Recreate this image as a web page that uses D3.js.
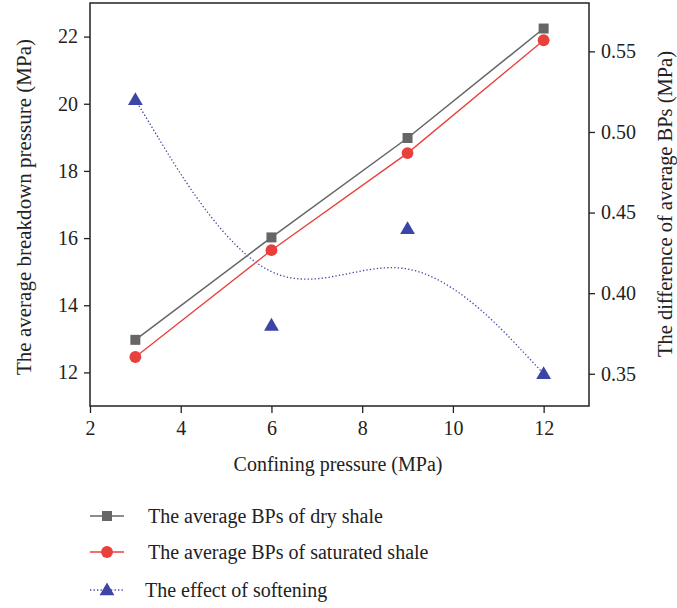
<!DOCTYPE html>
<html>
<head>
<meta charset="utf-8">
<script src="https://cdn.jsdelivr.net/npm/d3@7"></script>
<style>
  body { margin: 0; background: #fff; }
  svg text { font-family: "Liberation Serif", "DejaVu Serif", serif; fill: #222; }
</style>
</head>
<body>
<div id="chart"></div>
<script>
// confining pressure (MPa)
var pressure = [3, 6, 9, 12];
// average breakdown pressures (MPa)
var dryBP = [12.97, 16.02, 18.98, 22.24];
var satBP = [12.46, 15.64, 18.53, 21.89];
// difference of average BPs (MPa), right axis
var softening = [0.52, 0.38, 0.44, 0.35];

var xTicks = [2, 4, 6, 8, 10, 12];
var yTicks = [12, 14, 16, 18, 20, 22];
var y2Ticks = [0.35, 0.40, 0.45, 0.50, 0.55];

var legendLabels = [
  "The average BPs of dry shale",
  "The average BPs of saturated shale",
  "The effect of softening"
];

var width = 677, height = 608,
    plotL = 90, plotR = 589, plotT = 3, plotB = 406;

var svg = d3.select("#chart").append("svg")
    .attr("width", width)
    .attr("height", height);

var x = d3.scaleLinear().domain([2, 13]).range([plotL, plotR]),
    y = d3.scaleLinear().domain([11, 23]).range([plotB, plotT]),
    y2 = d3.scaleLinear().domain([0.33, 0.58]).range([plotB, plotT]);

var xAxis = d3.axisBottom(x).tickValues(xTicks).tickSize(7).tickPadding(8),
    yAxis = d3.axisLeft(y).tickValues(yTicks).tickSize(6).tickPadding(6),
    y2Axis = d3.axisRight(y2).tickValues(y2Ticks).tickSize(6).tickPadding(6)
        .tickFormat(d3.format(".2f"));

function styleAxis(g) {
    g.select(".domain").remove();
    g.selectAll(".tick line").attr("stroke", "#222").attr("stroke-width", 1.3);
    g.selectAll(".tick text").style("font-size", "20px").attr("fill", "#222");
}

svg.append("g").attr("transform", "translate(0," + plotB + ")").call(xAxis).call(styleAxis);
svg.append("g").attr("transform", "translate(" + plotL + ",0)").call(yAxis).call(styleAxis);
svg.append("g").attr("transform", "translate(" + plotR + ",0)").call(y2Axis).call(styleAxis);

// frame
svg.append("rect")
    .attr("x", plotL).attr("y", plotT)
    .attr("width", plotR - plotL).attr("height", plotB - plotT)
    .attr("fill", "none").attr("stroke", "#222").attr("stroke-width", 1.5);

// axis titles
svg.append("text")
    .attr("x", 338).attr("y", 471)
    .attr("text-anchor", "middle").style("font-size", "20px")
    .text("Confining pressure (MPa)");

svg.append("text")
    .attr("transform", "translate(31,207) rotate(-90)")
    .attr("text-anchor", "middle").style("font-size", "21px")
    .attr("textLength", 336).attr("lengthAdjust", "spacingAndGlyphs")
    .text("The average breakdown pressure (MPa)");

svg.append("text")
    .attr("transform", "translate(672,204) rotate(-90)")
    .attr("text-anchor", "middle").style("font-size", "21px")
    .attr("textLength", 306).attr("lengthAdjust", "spacingAndGlyphs")
    .text("The difference of average BPs (MPa)");

var grey = "#666666", red = "#e8403a", blue = "#3c45a6";

function lineOf(vals, scale, curve) {
    return d3.line()
        .x(function (d, i) { return x(pressure[i]); })
        .y(function (d) { return scale(d); })
        .curve(curve || d3.curveLinear)(vals);
}

// softening curve (B-spline)
svg.append("path")
    .attr("d", lineOf(softening, y2, d3.curveBasis))
    .attr("fill", "none").attr("stroke", blue)
    .attr("stroke-width", 1.3).attr("stroke-dasharray", "1.3 2.2");

svg.append("path")
    .attr("d", lineOf(dryBP, y))
    .attr("fill", "none").attr("stroke", grey).attr("stroke-width", 1.5);

svg.append("path")
    .attr("d", lineOf(satBP, y))
    .attr("fill", "none").attr("stroke", red).attr("stroke-width", 1.3);

var square = d3.symbol().type(d3.symbolSquare).size(100),
    circle = d3.symbol().type(d3.symbolCircle).size(110),
    triangle = d3.symbol().type(d3.symbolTriangle).size(95);

svg.selectAll(".dry").data(dryBP).enter().append("path")
    .attr("d", square)
    .attr("transform", function (d, i) { return "translate(" + x(pressure[i]) + "," + y(d) + ")"; })
    .attr("fill", grey);

svg.selectAll(".sat").data(satBP).enter().append("path")
    .attr("d", circle)
    .attr("transform", function (d, i) { return "translate(" + x(pressure[i]) + "," + y(d) + ")"; })
    .attr("fill", red);

svg.selectAll(".soft").data(softening).enter().append("path")
    .attr("d", triangle)
    .attr("transform", function (d, i) { return "translate(" + x(pressure[i]) + "," + (y2(d) + 1) + ")"; })
    .attr("fill", blue);

// legend
var legendY = [516, 552, 590],
    legendTextX = [148, 148, 145],
    legendSym = [square, circle, triangle],
    legendCol = [grey, red, blue];

legendLabels.forEach(function (label, i) {
    var g = svg.append("g").attr("transform", "translate(0," + legendY[i] + ")");
    var ln = g.append("line")
        .attr("x1", 90).attr("x2", 124)
        .attr("stroke", legendCol[i]).attr("stroke-width", 1.3);
    if (i === 2) ln.attr("stroke-dasharray", "1.3 2.2");
    g.append("path").attr("d", legendSym[i])
        .attr("transform", "translate(107," + (i === 2 ? 1 : 0) + ")")
        .attr("fill", legendCol[i]);
    g.append("text")
        .attr("x", legendTextX[i]).attr("y", 7)
        .style("font-size", "20px")
        .text(label);
});
</script>
</body>
</html>
